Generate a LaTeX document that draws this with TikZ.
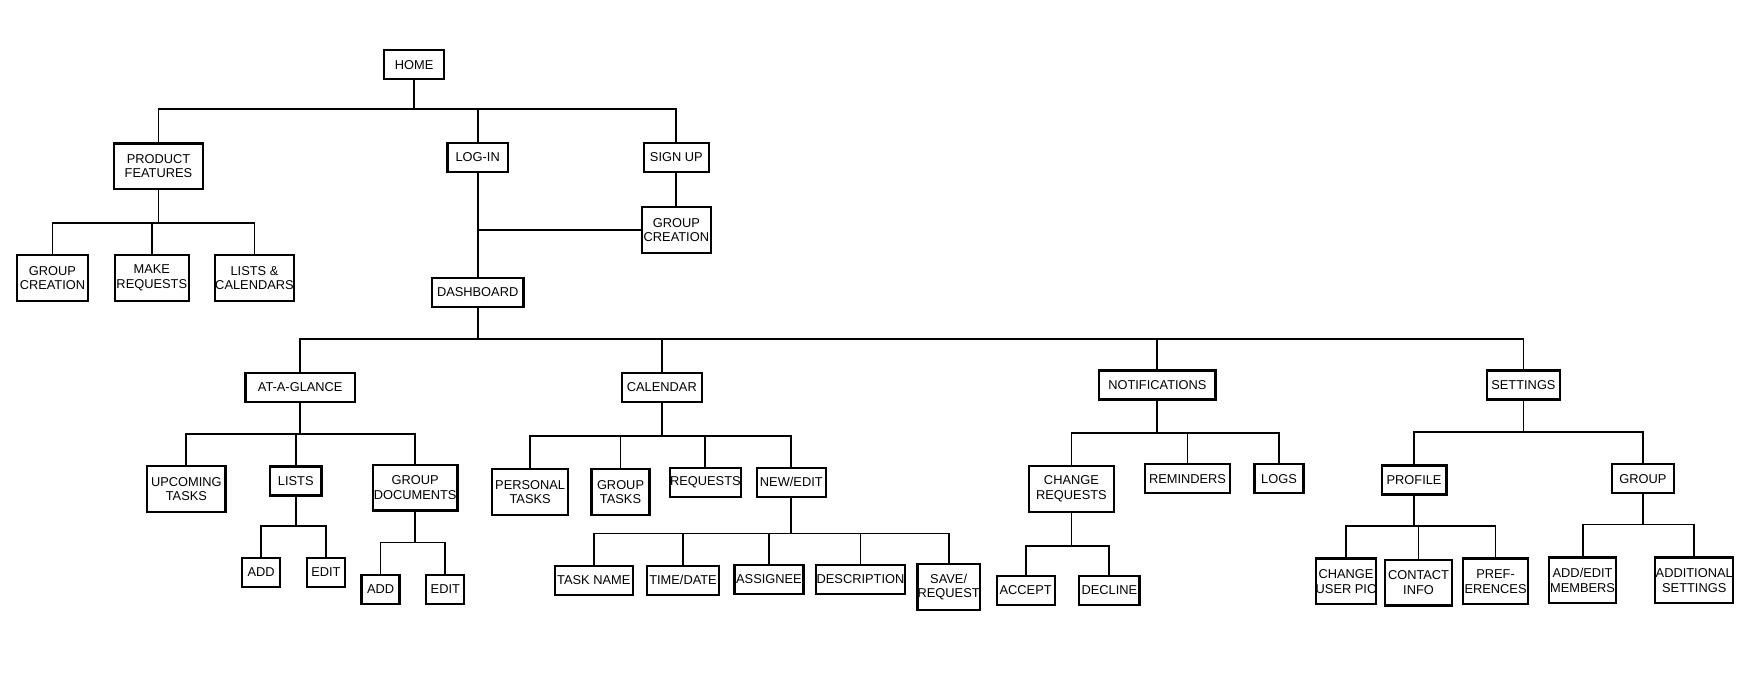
\documentclass[tikz,border=0pt]{standalone}
\usepackage{fontspec}
\setmainfont{Liberation Sans}
\usetikzlibrary{positioning}
\begin{document}
\begin{tikzpicture}[x=1pt, y=-1pt,
    every node/.style={font=\fontsize{11.5}{13}\selectfont, align=center, inner sep=0pt},
    box/.style={draw, line width=2pt, minimum height=26pt},
    tall/.style={box, minimum height=41pt},
    link/.style={line width=1.6pt}
  ]
  \useasboundingbox (0,0) rectangle (1568,627);

  % Nodes
  \node[box, minimum width=54pt] (home) at (371,58) {HOME};
  \node[tall, minimum width=80pt] (features) at (142,149) {PRODUCT\\FEATURES};
  \node[box, minimum width=54pt] (login) at (428,141) {LOG-IN};
  \node[box, minimum width=58pt] (signup) at (606,141) {SIGN UP};
  \node[tall, minimum width=62pt] (creation) at (606,206) {GROUP\\CREATION};
  \node[tall, minimum width=64pt] (fcreation) at (47,249) {GROUP\\CREATION};
  \node[tall, minimum width=66pt] (frequests) at (136,249) {MAKE\\REQUESTS};
  \node[tall, minimum width=70pt] (flists) at (228,249) {LISTS \&\\CALENDARS};
  \node[box, minimum width=82pt] (dash) at (428,262) {DASHBOARD};

  \node[box, minimum width=98pt] (glance) at (269,347) {AT-A-GLANCE};
  \node[box, minimum width=72pt] (cal) at (593,347) {CALENDAR};
  \node[box, minimum width=104pt] (notif) at (1037,345) {NOTIFICATIONS};
  \node[box, minimum width=66pt] (settings) at (1365,345) {SETTINGS};

  \node[tall, minimum width=70pt] (upcoming) at (167,438) {UPCOMING\\TASKS};
  \node[box, minimum width=46pt] (lists) at (265,431) {LISTS};
  \node[tall, minimum width=76pt] (docs) at (372,437) {GROUP\\DOCUMENTS};
  \node[box, minimum width=34pt] (ladd) at (234,513) {ADD};
  \node[box, minimum width=34pt] (ledit) at (292,513) {EDIT};
  \node[box, minimum width=34pt] (dadd) at (341,528) {ADD};
  \node[box, minimum width=34pt] (dedit) at (399,528) {EDIT};

  \node[tall, minimum width=68pt] (personal) at (475,441) {PERSONAL\\TASKS};
  \node[tall, minimum width=52pt] (gtasks) at (556,441) {GROUP\\TASKS};
  \node[box, minimum width=62pt] (requests) at (632,432) {REQUESTS};
  \node[box, minimum width=62pt] (newedit) at (709,432) {NEW/EDIT};
  \node[box, minimum width=70pt] (taskname) at (532,520) {TASK NAME};
  \node[box, minimum width=64pt] (timedate) at (612,520) {TIME/DATE};
  \node[box, minimum width=62pt] (assignee) at (689,519) {ASSIGNEE};
  \node[box, minimum width=80pt] (descr) at (771,519) {DESCRIPTION};
  \node[tall, minimum width=56pt] (save) at (850,526) {SAVE/\\REQUEST};

  \node[tall, minimum width=76pt] (change) at (960,438) {CHANGE\\REQUESTS};
  \node[box, minimum width=76pt] (remind) at (1064,429) {REMINDERS};
  \node[box, minimum width=44pt] (logs) at (1146,429) {LOGS};
  \node[box, minimum width=52pt] (accept) at (919,529) {ACCEPT};
  \node[box, minimum width=54pt] (decline) at (994,529) {DECLINE};

  \node[box, minimum width=58pt] (profile) at (1267,430) {PROFILE};
  \node[box, minimum width=56pt] (group) at (1472,429) {GROUP};
  \node[tall, minimum width=54pt] (pic) at (1206,521) {CHANGE\\USER PIC};
  \node[tall, minimum width=60pt] (contact) at (1271,522) {CONTACT\\INFO};
  \node[tall, minimum width=58pt] (prefs) at (1340,521) {PREF-\\ERENCES};
  \node[tall, minimum width=60pt] (members) at (1418,520) {ADD/EDIT\\MEMBERS};
  \node[tall, minimum width=70pt] (additional) at (1518,520) {ADDITIONAL\\SETTINGS};

  % Connectors
  \foreach \c in {features, login, signup}
    \draw[link] (home.south) -- (home.south |- 0,98) -| (\c.north);
  \foreach \c in {fcreation, frequests, flists}
    \draw[link] (features.south) -- (features.south |- 0,200) -| (\c.north);
  \draw[link] (login) -- (dash);
  \draw[link] (signup) -- (creation);
  \draw[link] (login |- creation) -- (creation.west);
  \foreach \c in {glance, cal, notif, settings}
    \draw[link] (dash.south) -- (dash.south |- 0,304) -| (\c.north);
  \foreach \c in {upcoming, lists, docs}
    \draw[link] (glance.south) -- (glance.south |- 0,389) -| (\c.north);
  \foreach \c in {ladd, ledit}
    \draw[link] (lists.south) -- (lists.south |- 0,471) -| (\c.north);
  \foreach \c in {dadd, dedit}
    \draw[link] (docs.south) -- (docs.south |- 0,486) -| (\c.north);
  \foreach \c in {personal, gtasks, requests, newedit}
    \draw[link] (cal.south) -- (cal.south |- 0,391) -| (\c.north);
  \foreach \c in {taskname, timedate, assignee, descr, save}
    \draw[link] (newedit.south) -- (newedit.south |- 0,478) -| (\c.north);
  \foreach \c in {change, remind, logs}
    \draw[link] (notif.south) -- (notif.south |- 0,388) -| (\c.north);
  \foreach \c in {accept, decline}
    \draw[link] (change.south) -- (change.south |- 0,489) -| (\c.north);
  \foreach \c in {profile, group}
    \draw[link] (settings.south) -- (settings.south |- 0,387) -| (\c.north);
  \foreach \c in {pic, contact, prefs}
    \draw[link] (profile.south) -- (profile.south |- 0,471) -| (\c.north);
  \foreach \c in {members, additional}
    \draw[link] (group.south) -- (group.south |- 0,470) -| (\c.north);
\end{tikzpicture}
\end{document}
